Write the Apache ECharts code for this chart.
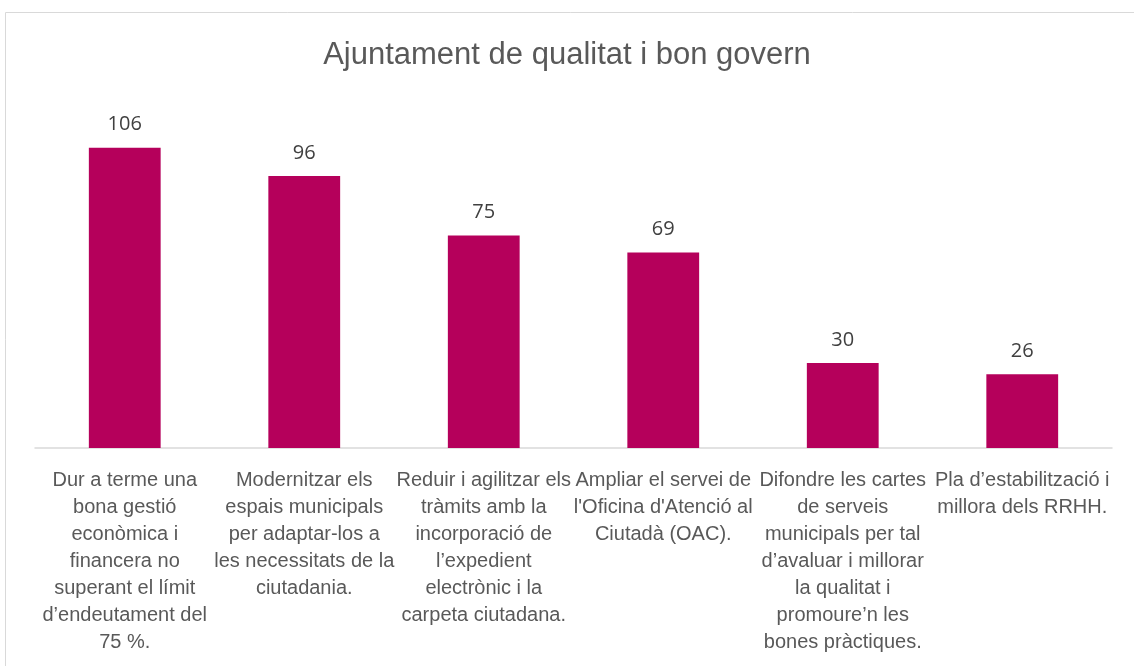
<!DOCTYPE html>
<html><head><meta charset="utf-8">
<script src="https://cdn.jsdelivr.net/npm/echarts@6/dist/echarts.min.js"></script>
<style>html,body{margin:0;padding:0;background:#fff}#c{width:1134px;height:666px}</style>
</head><body><div id="c"></div>
<script>
const titleText = "Ajuntament de qualitat i bon govern";
const categories = [
  "Dur a terme una\nbona gestió\neconòmica i\nfinancera no\nsuperant el límit\nd’endeutament del\n75 %.",
  "Modernitzar els\nespais municipals\nper adaptar-los a\nles necessitats de la\nciutadania.",
  "Reduir i agilitzar els\ntràmits amb la\nincorporació de\nl’expedient\nelectrònic i la\ncarpeta ciutadana.",
  "Ampliar el servei de\nl'Oficina d'Atenció al\nCiutadà (OAC).",
  "Difondre les cartes\nde serveis\nmunicipals per tal\nd’avaluar i millorar\nla qualitat i\npromoure’n les\nbones pràctiques.",
  "Pla d’estabilització i\nmillora dels RRHH."
];
const values = [106, 96, 75, 69, 30, 26];

const chart = echarts.init(document.getElementById('c'));
chart.setOption({
  animation: false,
  title: {text: titleText, left: 'center', top: 35,
    textStyle: {fontFamily: 'Liberation Sans Narrow, Arial Narrow, sans-serif', fontSize: 31, fontWeight: 'normal', color: '#595959'}},
  graphic: [{type: 'rect', shape: {x: 5.5, y: 12.5, width: 1140, height: 670},
    style: {fill: 'none', stroke: '#d9d9d9', lineWidth: 1}, silent: true, z: -1}],
  grid: {left: 35, right: 22, top: 108, bottom: 218},
  xAxis: {type: 'category', data: categories,
    axisLine: {lineStyle: {color: '#d9d9d9', width: 1.5}},
    axisTick: {show: false},
    axisLabel: {interval: 0, margin: 19, lineHeight: 27,
      fontFamily: 'Liberation Sans Narrow, Arial Narrow, sans-serif', fontSize: 20, color: '#595959'}},
  yAxis: {type: 'value', min: 0, max: 120, show: false, splitLine: {show: false}},
  series: [{type: 'bar', data: values, barWidth: '40%',
    itemStyle: {color: '#b5005b'},
    label: {show: true, position: 'top', distance: 13,
      fontFamily: 'Open Sans, sans-serif', fontSize: 20, color: '#404040'}}]
});
</script></body></html>
